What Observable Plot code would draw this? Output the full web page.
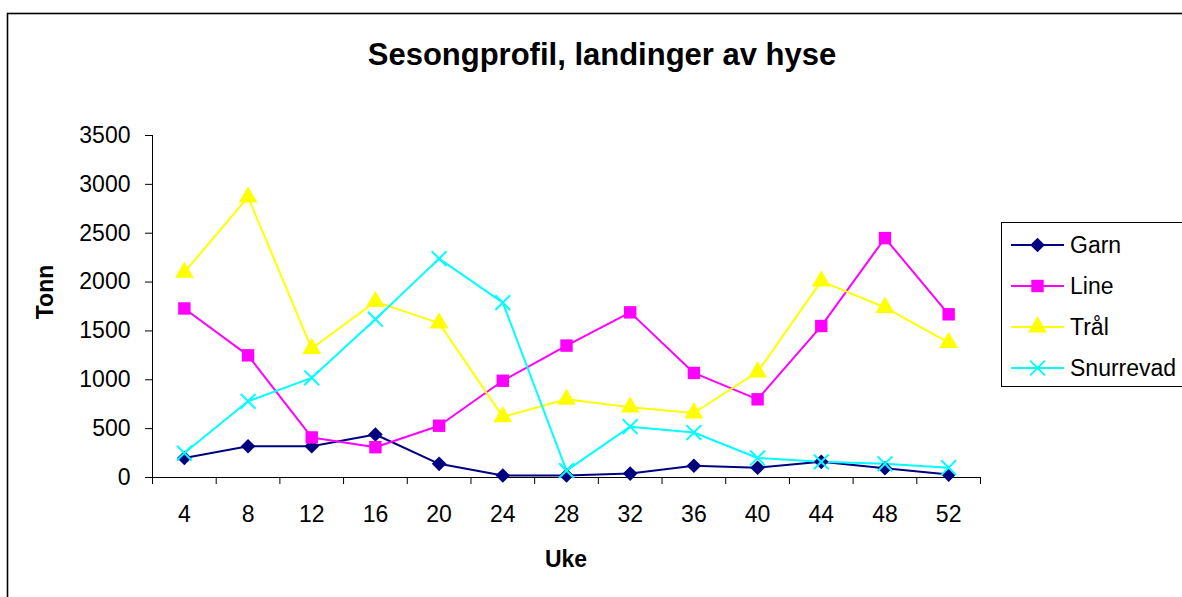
<!DOCTYPE html>
<html>
<head>
<meta charset="utf-8">
<script src="https://cdn.jsdelivr.net/npm/d3@7"></script>
<script src="https://cdn.jsdelivr.net/npm/@observablehq/plot@0.6"></script>
<style>
  html, body { margin: 0; padding: 0; background: #fff; }
  #chart { width: 1182px; height: 597px; overflow: hidden; }
</style>
</head>
<body>
<div id="chart"></div>
<script>
// ---- data ----
const weeks = [4, 8, 12, 16, 20, 24, 28, 32, 36, 40, 44, 48, 52];
const garn = [200, 320, 320, 440, 140, 20, 20, 40, 120, 100, 160, 95, 30];
const line = [1730, 1250, 410, 310, 530, 990, 1350, 1690, 1070, 800, 1550, 2450, 1670];
const tral = [2100, 2870, 1320, 1800, 1580, 620, 800, 720, 660, 1080, 2010, 1740, 1380];
const snurrevad = [250, 780, 1020, 1620, 2240, 1790, 70, 520, 460, 200, 160, 140, 100];
const yTicks = [0, 500, 1000, 1500, 2000, 2500, 3000, 3500];
const seriesNames = ["Garn", "Line", "Trål", "Snurrevad"];
const seriesValues = [garn, line, tral, snurrevad];
const seriesColors = ["#000080", "#FF00FF", "#FFFF00", "#00FFFF"];
const seriesSymbols = ["diamond2", "square", "triangle", "times"];
const seriesR = [6.6, 7.0, 7.0, 6.8];
const titleText = "Sesongprofil, landinger av hyse";
const xTitle = "Uke";
const yTitle = "Tonn";

const FONT = "'Liberation Sans', Arial, Helvetica, sans-serif";

// category bands: each week is the centre of a band of width 4
const half = (weeks[1] - weeks[0]) / 2;
const xDomain = [weeks[0] - half, weeks[weeks.length - 1] + half];
const bandEdges = weeks.map(w => w - half).concat([weeks[weeks.length - 1] + half]);

const rows = [];
seriesNames.forEach((s, i) => {
  weeks.forEach((w, j) => rows.push({series: s, week: w, value: seriesValues[i][j], idx: i}));
});

const marks = [
  Plot.ruleY([0], {stroke: "#000", strokeWidth: 1}),
  Plot.ruleX([xDomain[0]], {stroke: "#000", strokeWidth: 1}),
  Plot.axisY(yTicks, {tickSize: 7, tickPadding: 15, label: null, stroke: "#000", fill: "#000", tickFormat: d => String(d)}),
  Plot.axisX(bandEdges, {tickSize: 7, tickFormat: () => "", label: null, stroke: "#000"}),
  Plot.axisX(weeks, {tickSize: 0, tickPadding: 28, label: null, fill: "#000", tickFormat: d => String(d)})
];

seriesNames.forEach((s, i) => {
  const d = rows.filter(r => r.series === s);
  marks.push(Plot.line(d, {x: "week", y: "value", stroke: seriesColors[i], strokeWidth: 2}));
});
seriesNames.forEach((s, i) => {
  const d = rows.filter(r => r.series === s);
  const isStroke = seriesSymbols[i] === "times";
  marks.push(Plot.dot(d, {
    x: "week", y: "value", symbol: () => seriesSymbols[i], r: seriesR[i],
    fill: isStroke ? "none" : seriesColors[i],
    stroke: isStroke ? seriesColors[i] : "none",
    strokeWidth: isStroke ? 2 : 0
  }));
});

const chart = Plot.plot({
  width: 1182,
  height: 597,
  marginLeft: 152,
  marginRight: 202,
  marginTop: 135,
  marginBottom: 120,
  x: {type: "linear", domain: xDomain},
  y: {type: "linear", domain: [yTicks[0], yTicks[yTicks.length - 1]]},
  style: {fontFamily: FONT, fontSize: "23px", color: "#000", background: "#fff", overflow: "visible"},
  marks
});

document.getElementById("chart").appendChild(chart);

// ---- annotations: frame, title, axis titles, legend ----
const svg = d3.select(chart);

svg.insert("rect", ":first-child")
  .attr("x", 7.5).attr("y", 13.5).attr("width", 1300).attr("height", 700)
  .attr("fill", "none").attr("stroke", "#000").attr("stroke-width", 1.6);

svg.append("text")
  .attr("x", 602).attr("y", 65)
  .attr("text-anchor", "middle")
  .attr("font-family", FONT).attr("font-weight", "bold").attr("font-size", 31)
  .attr("fill", "#000")
  .text(titleText);

svg.append("text")
  .attr("x", 566).attr("y", 567)
  .attr("text-anchor", "middle")
  .attr("font-family", FONT).attr("font-weight", "bold").attr("font-size", 23)
  .attr("fill", "#000")
  .text(xTitle);

svg.append("text")
  .attr("transform", "translate(53,292) rotate(-90)")
  .attr("text-anchor", "middle")
  .attr("font-family", FONT).attr("font-weight", "bold").attr("font-size", 23)
  .attr("fill", "#000")
  .text(yTitle);

const legend = svg.append("g");
legend.append("rect")
  .attr("x", 1001.5).attr("y", 222.5).attr("width", 300).attr("height", 164)
  .attr("fill", "#fff").attr("stroke", "#000").attr("stroke-width", 1);

const symbolMap = {
  diamond2: d3.symbolDiamond2, square: d3.symbolSquare,
  triangle: d3.symbolTriangle, times: d3.symbolTimes
};
seriesNames.forEach((s, i) => {
  const y = 245 + i * 41;
  const g = legend.append("g");
  g.append("line")
    .attr("x1", 1011).attr("x2", 1064).attr("y1", y).attr("y2", y)
    .attr("stroke", seriesColors[i]).attr("stroke-width", 2);
  const isStroke = seriesSymbols[i] === "times";
  g.append("path")
    .attr("transform", `translate(1037.5,${y})`)
    .attr("d", d3.symbol(symbolMap[seriesSymbols[i]], seriesR[i] * seriesR[i] * Math.PI)())
    .attr("fill", isStroke ? "none" : seriesColors[i])
    .attr("stroke", isStroke ? seriesColors[i] : "none")
    .attr("stroke-width", isStroke ? 2 : 0);
  g.append("text")
    .attr("x", 1070).attr("y", y + 8)
    .attr("text-anchor", "start")
    .attr("font-family", FONT).attr("font-size", 23).attr("fill", "#000")
    .text(s);
});
</script>
</body>
</html>
